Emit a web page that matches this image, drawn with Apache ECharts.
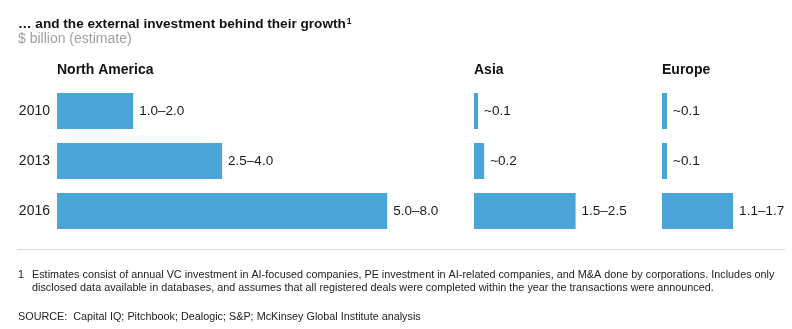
<!DOCTYPE html>
<html><head><meta charset="utf-8">
<script src="https://cdn.jsdelivr.net/npm/echarts@6/dist/echarts.min.js"></script>
<style>html,body{margin:0;padding:0;background:#fff}#c{width:792px;height:329px}</style>
</head><body><div id="c"></div>
<script>
const years = ['2010', '2013', '2016'];
const regions = ['North America', 'Asia', 'Europe'];
const northAmerica = [1.5, 3.25, 6.5];
const asia = [0.08, 0.2, 2.0];
const europe = [0.1, 0.1, 1.4];
const naLabels = ['1.0–2.0', '2.5–4.0', '5.0–8.0'];
const asiaLabels = ['~0.1', '~0.2', '1.5–2.5'];
const europeLabels = ['~0.1', '~0.1', '1.1–1.7'];
const axisMax = [8, 3, 2];

const PX = 50.8;
const lefts = [57, 474, 662];
const FONT = '"Liberation Sans", Arial, Helvetica, sans-serif';
const BAR = '#4ba4d8';
const seriesData = [northAmerica, asia, europe];
const seriesLabels = [naLabels, asiaLabels, europeLabels];

const chart = echarts.init(document.getElementById('c'), null, {renderer: 'canvas'});
const grids = [], xAxes = [], yAxes = [], series = [], titles = [];
for (let i = 0; i < 3; i++) {
  grids.push({left: lefts[i], top: 86, height: 150, width: axisMax[i] * PX, containLabel: false});
  xAxes.push({type: 'value', gridIndex: i, min: 0, max: axisMax[i], show: false});
  yAxes.push({type: 'category', gridIndex: i, data: years, inverse: true,
    axisLine: {show: false}, axisTick: {show: false}, splitLine: {show: false},
    axisLabel: {show: i === 0, color: '#1a1a1a', fontSize: 14, fontFamily: FONT, margin: 7}});
  const labs = seriesLabels[i];
  series.push({type: 'bar', xAxisIndex: i, yAxisIndex: i, data: seriesData[i], barWidth: 36,
    itemStyle: {color: BAR}, silent: true,
    label: {show: true, position: 'right', distance: 6, color: '#1a1a1a', fontSize: 13.5, fontFamily: FONT,
      formatter: p => labs[p.dataIndex]}});
  titles.push({text: regions[i], left: lefts[i], top: 63, padding: 0,
    textStyle: {fontSize: 14, fontWeight: 'bold', color: '#111', fontFamily: FONT}});
}
titles.push({
  text: '{a|… and the external investment behind their growth}{s|1}',
  left: 18, top: 17, padding: 0,
  textStyle: {fontFamily: FONT, rich: {
    a: {fontSize: 13.6, fontWeight: 'bold', color: '#111', fontFamily: FONT},
    s: {fontSize: 8.5, color: '#111', fontFamily: FONT, verticalAlign: 'top', padding: [0, 0, 6, 1]}
  }}
});
titles.push({text: '$ billion (estimate)', left: 18, top: 32.5, padding: 0,
  textStyle: {fontSize: 14, fontWeight: 'normal', color: '#a0a0a0', fontFamily: FONT}});

const foot1 = 'Estimates consist of annual VC investment in AI-focused companies, PE investment in AI-related companies, and M&A done by corporations. Includes only';
const foot2 = 'disclosed data available in databases, and assumes that all registered deals were completed within the year the transactions were announced.';
const source = 'SOURCE:  Capital IQ; Pitchbook; Dealogic; S&P; McKinsey Global Institute analysis';
const SX = 1.03;
const fstyle = (t) => ({text: t, fill: '#222', font: '10.5px ' + FONT, textVerticalAlign: 'middle'});

chart.setOption({
  animation: false,
  title: titles,
  grid: grids, xAxis: xAxes, yAxis: yAxes, series: series,
  graphic: [
    {type: 'line', shape: {x1: 17, y1: 249.5, x2: 785, y2: 249.5}, style: {stroke: '#d9d9d9', lineWidth: 1}},
    {type: 'text', x: 18, y: 275, scaleX: SX, style: fstyle('1')},
    {type: 'text', x: 32, y: 275, scaleX: SX, style: fstyle(foot1)},
    {type: 'text', x: 32, y: 288, scaleX: SX, style: fstyle(foot2)},
    {type: 'text', x: 18, y: 317, scaleX: SX, style: fstyle(source)}
  ]
});
</script></body></html>
